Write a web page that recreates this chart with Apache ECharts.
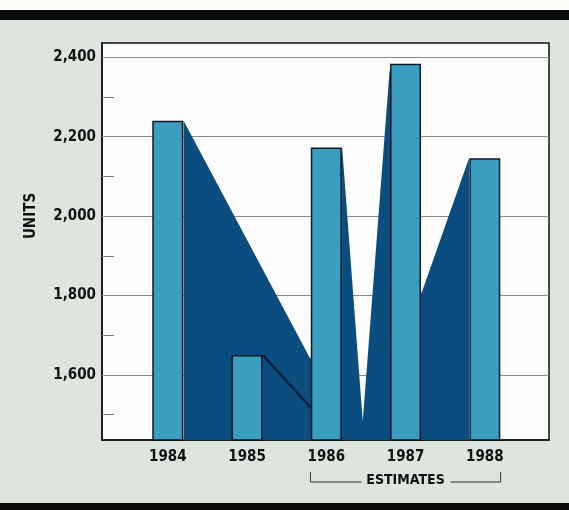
<!DOCTYPE html>
<html>
<head>
<meta charset="utf-8">
<title>Units 1984–1988</title>
<script src="https://cdn.jsdelivr.net/npm/echarts@6/dist/echarts.min.js"></script>
<style>
  html, body { margin: 0; padding: 0; }
  body { width: 569px; height: 510px; background: #dde5de; position: relative; overflow: hidden; }
  #topStrip { position: absolute; left: 0; top: 0; width: 569px; height: 10px; background: #fbfbf8; }
  #topBand { position: absolute; left: 0; top: 10px; width: 569px; height: 10px; background: #0a0a0a; }
  #bottomBand { position: absolute; left: 0; top: 503px; width: 569px; height: 7px; background: #0a0a0a; }
  #chart { position: absolute; left: 0; top: 0; width: 569px; height: 510px; }
</style>
</head>
<body>
<div id="topStrip"></div>
<div id="topBand"></div>
<div id="bottomBand"></div>
<div id="chart"></div>
<script>
// Years along the bottom axis
const years = ['1984', '1985', '1986', '1987', '1988'];
// Units per year (bars)
const units = [2240, 1650, 2173, 2384, 2146];
// Dark backdrop profile: [position in year slots, units]
const backdrop = [
  [0.2, 2240], [1.8, 1640],
  [2.2, 2173], [2.46, 1483], [2.8, 2370],
  [3.2, 1805], [3.8, 2146]
];
// Shadow edge trailing the 1985 bar
const shadow1985 = [[1.2, 1650], [1.8, 1518]];
// Value axis
const yMin = 1436, yMax = 2436;
const majorTicks = [1600, 1800, 2000, 2200, 2400];
const minorTicks = [1500, 1700, 1900, 2100, 2300];
// First and last slot covered by the estimate bracket
const estimateFrom = 1.8, estimateTo = 4.2;

const FONT = '"Liberation Sans Narrow", "DejaVu Sans Condensed", "Liberation Sans", sans-serif';

const chart = echarts.init(document.getElementById('chart'), null, { renderer: 'canvas' });

const option = {
  animation: false,
  backgroundColor: 'transparent',
  grid: {
    left: 102, right: 20, top: 43, bottom: 70,
    show: true, backgroundColor: '#fcfdfc',
    borderColor: '#111', borderWidth: 1.5
  },
  xAxis: {
    type: 'value',
    min: -0.83, max: 4.81,
    splitLine: { show: false },
    axisTick: { show: false },
    axisLine: { show: true, onZero: false, lineStyle: { color: '#111', width: 1.5 } },
    axisLabel: {
      customValues: years.map((_, i) => i),
      formatter: v => years[Math.round(v)],
      color: '#111', fontFamily: FONT, fontWeight: 'bold', fontSize: 15, margin: 10
    }
  },
  yAxis: {
    type: 'value',
    min: yMin, max: yMax,
    splitLine: { show: false },
    axisLine: { show: true, onZero: false, lineStyle: { color: '#111', width: 1.5 } },
    axisTick: {
      show: true, inside: true, length: 12,
      customValues: minorTicks,
      lineStyle: { color: '#777', width: 1 }
    },
    axisLabel: {
      customValues: majorTicks,
      formatter: v => v.toLocaleString('en-US'),
      color: '#111', fontFamily: FONT, fontWeight: 'bold', fontSize: 15, margin: 6
    }
  },
  series: [
    {
      // horizontal guide lines at the labelled values
      type: 'line', data: [], z: 1, silent: true,
      markLine: {
        z: 1, silent: true, symbol: 'none', label: { show: false },
        lineStyle: { color: '#8a8a8a', width: 1, type: 'solid' },
        data: majorTicks.map(v => ({ yAxis: v }))
      }
    },
    {
      type: 'line', z: 2, silent: true,
      data: backdrop, symbol: 'none',
      lineStyle: { width: 0 },
      areaStyle: { color: '#0c4d80', opacity: 1 }
    },
    {
      type: 'line', z: 2, silent: true,
      data: shadow1985, symbol: 'none',
      lineStyle: { color: '#08223d', width: 2.5 }
    },
    {
      type: 'bar', z: 3,
      barWidth: 31,
      data: units.map((v, i) => [i, v]),
      itemStyle: { color: '#3a9ec0', borderColor: '#0b1a26', borderWidth: 1.5 }
    }
  ]
};
chart.setOption(option);

// Bracket marking the estimated years, plus the axis title
const xl = chart.convertToPixel({ xAxisIndex: 0 }, estimateFrom);
const xr = chart.convertToPixel({ xAxisIndex: 0 }, estimateTo);
const mid = (xl + xr) / 2;
const yTop = 472, yLine = 482;
chart.setOption({
  graphic: [
    {
      type: 'polyline', silent: true,
      shape: { points: [[xl, yTop], [xl, yLine], [mid - 44, yLine]] },
      style: { stroke: '#333', lineWidth: 1, fill: null }
    },
    {
      type: 'polyline', silent: true,
      shape: { points: [[mid + 45, yLine], [xr, yLine], [xr, yTop]] },
      style: { stroke: '#333', lineWidth: 1, fill: null }
    },
    {
      type: 'text', silent: true, x: mid, y: 480,
      style: {
        text: 'ESTIMATES', fill: '#111', font: 'bold 14px ' + FONT,
        align: 'center', verticalAlign: 'middle'
      }
    },
    {
      type: 'text', silent: true, x: 31, y: 216, rotation: Math.PI / 2,
      style: {
        text: 'UNITS', fill: '#111', font: 'bold 15px ' + FONT,
        align: 'center', verticalAlign: 'middle'
      }
    }
  ]
});
</script>
</body>
</html>
